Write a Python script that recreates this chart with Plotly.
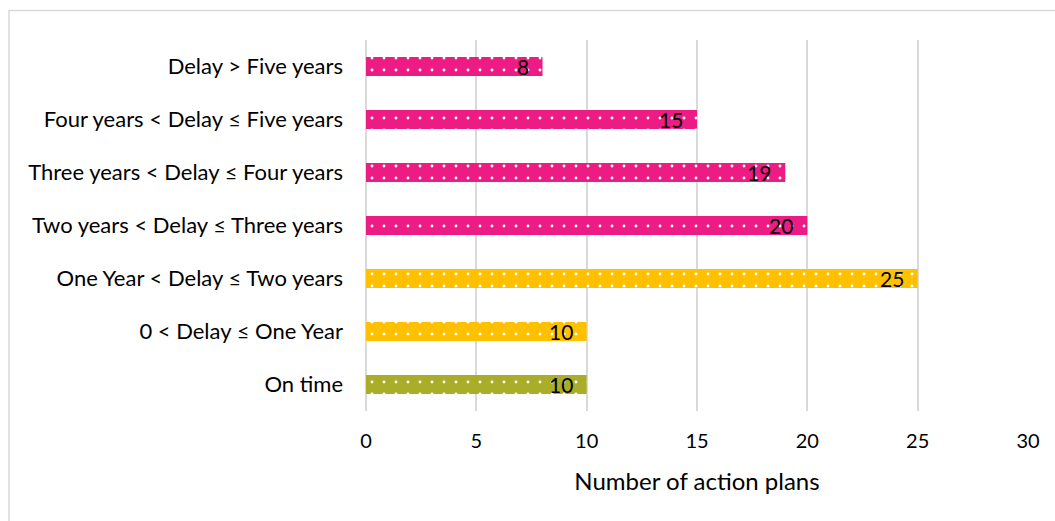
import plotly.graph_objects as go

categories = [
    "On time",
    "0 < Delay ≤ One Year",
    "One Year < Delay ≤ Two years",
    "Two years < Delay ≤ Three years",
    "Three years < Delay ≤ Four years",
    "Four years < Delay ≤ Five years",
    "Delay > Five years",
]
counts = [10, 10, 25, 20, 19, 15, 8]
bar_colors = ["#A9AD2A", "#FFC000", "#FFC000", "#EC1C84", "#EC1C84", "#EC1C84", "#EC1C84"]
x_ticks = [0, 5, 10, 15, 20, 25, 30]
x_title = "Number of action plans"

FONT = "Lato"

fig = go.Figure()
# solid coloured bars
fig.add_trace(go.Bar(
    y=categories, x=counts, orientation="h", width=0.36,
    marker=dict(color=bar_colors, line=dict(width=0)),
    hoverinfo="x+y",
))
# white dotted texture laid over the same bars
fig.add_trace(go.Bar(
    y=categories, x=counts, orientation="h", width=0.36,
    marker=dict(
        color="white", line=dict(width=0),
        pattern=dict(shape=".", bgcolor="rgba(0,0,0,0)", size=12, solidity=0.045,
                     fillmode="replace"),
    ),
    hoverinfo="skip",
))

# value labels just inside the end of each bar
for cat, v in zip(categories, counts):
    fig.add_annotation(
        x=v, y=cat, text=str(v), showarrow=False,
        xanchor="right", xshift=-12, yshift=0,
        font=dict(family=FONT, size=21, color="black"),
    )

L, R, T, B = 366, 27, 40, 110
W, H = 1055, 521
pw, ph = W - L - R, H - T - B

# thin frame around the whole chart area
fig.add_shape(
    type="rect", xref="paper", yref="paper",
    x0=(9 - L) / pw, x1=(1060 - L) / pw,
    y0=(H - B - 530) / ph, y1=1 + (T - 10.5) / ph,
    line=dict(color="#D9D9D9", width=1.5), fillcolor="rgba(0,0,0,0)", layer="below",
)

fig.update_layout(
    width=W, height=H,
    margin=dict(l=L, r=R, t=T, b=B),
    plot_bgcolor="white", paper_bgcolor="white",
    showlegend=False,
    barmode="overlay",
    font=dict(family=FONT, size=22, color="#000000"),
    xaxis=dict(
        range=[0, 30], tickvals=x_ticks, showgrid=True, gridcolor="#D9D9D9", gridwidth=2,
        zeroline=True, zerolinecolor="#D9D9D9", zerolinewidth=2,
        showline=False, ticks="", tickfont=dict(size=20), ticklabelstandoff=16,
        title=dict(text=x_title, font=dict(size=24), standoff=22),
    ),
    yaxis=dict(
        categoryorder="array", categoryarray=categories,
        showgrid=False, showline=False, ticks="", ticklabelstandoff=22,
        tickfont=dict(size=22),
    ),
)

fig.write_html("out.html")
